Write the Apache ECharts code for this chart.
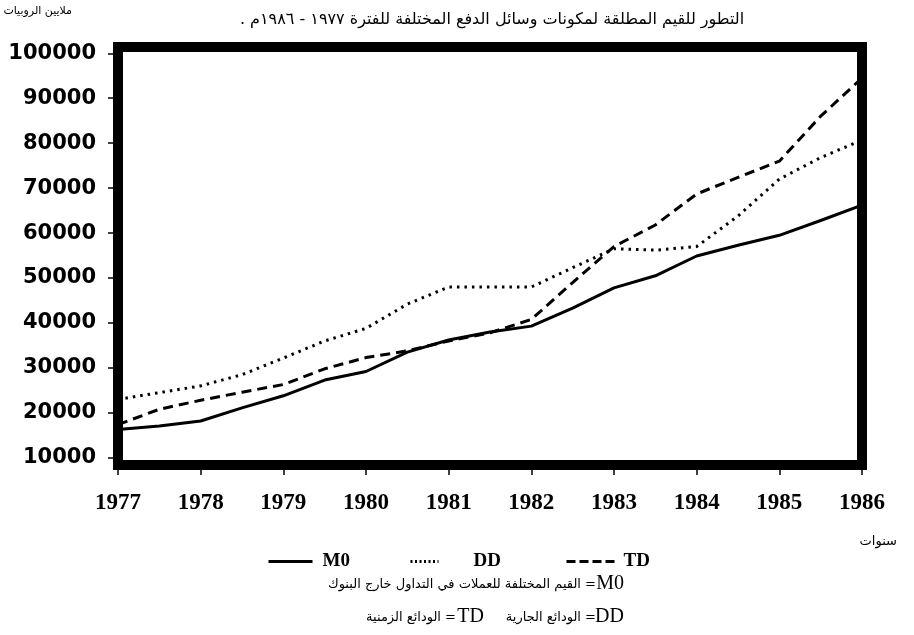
<!DOCTYPE html>
<html>
<head>
<meta charset="utf-8">
<script src="https://cdn.jsdelivr.net/npm/echarts@6/dist/echarts.min.js"></script>
<style>
html,body{margin:0;padding:0;background:#fff;}
#chart{width:914px;height:635px;}
</style>
</head>
<body>
<div id="chart"></div>
<script>
// ---- data ----
const years = [1977, 1977.5, 1978, 1978.5, 1979, 1979.5, 1980, 1980.5, 1981, 1981.5,
               1982, 1982.5, 1983, 1983.5, 1984, 1984.5, 1985, 1985.5, 1986];
const m0 = [16300, 17100, 18200, 21100, 23800, 27300, 29200, 33500, 36200, 38000,
            39300, 43300, 47800, 50500, 54900, 57300, 59500, 62800, 66200];
const dd = [23000, 24500, 26000, 28500, 32200, 36000, 38800, 44200, 48000, 48000,
            48000, 52300, 56500, 56200, 57000, 63800, 72000, 76800, 80700];
const td = [17400, 20800, 22800, 24600, 26300, 29800, 32300, 33800, 36000, 37800,
            40800, 49000, 57000, 61800, 68700, 72400, 76000, 86000, 94500];
const seriesNames = ['M0', 'DD', 'TD'];
const yTickValues = [10000, 20000, 30000, 40000, 50000, 60000, 70000, 80000, 90000, 100000];

const titleText = '. التطور للقيم المطلقة لمكونات وسائل الدفع المختلفة للفترة ١٩٧٧ - ١٩٨٦م';
const unitText = 'ملايين الروبيات';
const xNameText = 'سنوات';
const noteM0 = 'القيم المختلفة للعملات في التداول خارج البنوك =';
const noteDD = 'الودائع الجارية =';
const noteTD = 'الودائع الزمنية =';

const pair = (arr) => years.map((y, i) => [y, arr[i]]);

const chart = echarts.init(document.getElementById('chart'), null, {renderer: 'canvas'});
const serifBold = 'Liberation Serif';
const arabicFont = 'DejaVu Sans';

const legendText = {fontFamily: serifBold, fontWeight: 'bold', fontSize: 19, color: '#000'};
function makeLegend(name, left, width, gap, dash) {
  return {
    data: [name], left: left, top: 547, itemWidth: width, itemHeight: 12,
    selectedMode: false,
    itemStyle: {opacity: 0},
    lineStyle: {color: '#000', width: 3, type: dash},
    textStyle: Object.assign({}, legendText, {padding: [0, 0, 0, gap]})
  };
}

chart.setOption({
  animation: false,
  backgroundColor: '#fff',
  color: ['#000', '#000', '#000'],
  grid: {
    left: 118, right: 52, top: 47, bottom: 170,
    show: true, borderWidth: 10, borderColor: '#000', backgroundColor: 'transparent'
  },
  xAxis: {
    type: 'value', min: 1977, max: 1986, interval: 1,
    axisLine: {show: false},
    axisTick: {show: true, length: 10, lineStyle: {color: '#000', width: 1.5}},
    splitLine: {show: false},
    axisLabel: {
      margin: 27, color: '#000', fontFamily: serifBold, fontWeight: 'bold', fontSize: 23,
      formatter: (v) => String(v)
    }
  },
  yAxis: {
    type: 'value', min: 8400, max: 101400,
    axisLine: {show: false},
    axisTick: {show: true, length: 10, lineStyle: {color: '#000', width: 1.5}, customValues: yTickValues},
    splitLine: {show: false},
    axisLabel: {
      margin: 22, color: '#000', fontFamily: 'DejaVu Sans', fontWeight: 'bold', fontSize: 21,
      customValues: yTickValues,
      formatter: (v) => String(v)
    }
  },
  legend: [
    makeLegend('M0', 262, 44, 5, 'solid'),
    makeLegend('DD', 404, 28, 30, [2, 2.5]),
    makeLegend('TD', 560, 50, 2, [9, 4])
  ],
  series: [
    {name: seriesNames[0], type: 'line', data: pair(m0), symbol: 'none', z: 3,
     lineStyle: {color: '#000', width: 3, type: 'solid'}},
    {name: seriesNames[1], type: 'line', data: pair(dd), symbol: 'none', z: 3,
     lineStyle: {color: '#000', width: 3, type: [2.5, 5]}},
    {name: seriesNames[2], type: 'line', data: pair(td), symbol: 'none', z: 3,
     lineStyle: {color: '#000', width: 3, type: [10, 6]}}
  ],
  graphic: [
    {type: 'text', x: 492, y: 20, style: {text: titleText, font: '16px "' + arabicFont + '"', fill: '#000', align: 'center', verticalAlign: 'middle'}},
    {type: 'text', x: 72, y: 11, style: {text: unitText, font: '11px "' + arabicFont + '"', fill: '#000', align: 'right', verticalAlign: 'middle'}},
    {type: 'text', x: 897, y: 542, style: {text: xNameText, font: '13px "' + arabicFont + '"', fill: '#000', align: 'right', verticalAlign: 'middle'}},
    {type: 'text', x: 624, y: 584, style: {text: 'M0', font: '20px "Liberation Serif"', fill: '#000', align: 'right', verticalAlign: 'middle'}},
    {type: 'text', x: 596, y: 585, style: {text: noteM0, font: '13px "' + arabicFont + '"', fill: '#000', align: 'right', verticalAlign: 'middle'}},
    {type: 'text', x: 624, y: 617, style: {text: 'DD', font: '20px "Liberation Serif"', fill: '#000', align: 'right', verticalAlign: 'middle'}},
    {type: 'text', x: 596, y: 618, style: {text: noteDD, font: '13px "' + arabicFont + '"', fill: '#000', align: 'right', verticalAlign: 'middle'}},
    {type: 'text', x: 484, y: 617, style: {text: 'TD', font: '20px "Liberation Serif"', fill: '#000', align: 'right', verticalAlign: 'middle'}},
    {type: 'text', x: 456, y: 618, style: {text: noteTD, font: '13px "' + arabicFont + '"', fill: '#000', align: 'right', verticalAlign: 'middle'}}
  ]
});
</script>
</body>
</html>
